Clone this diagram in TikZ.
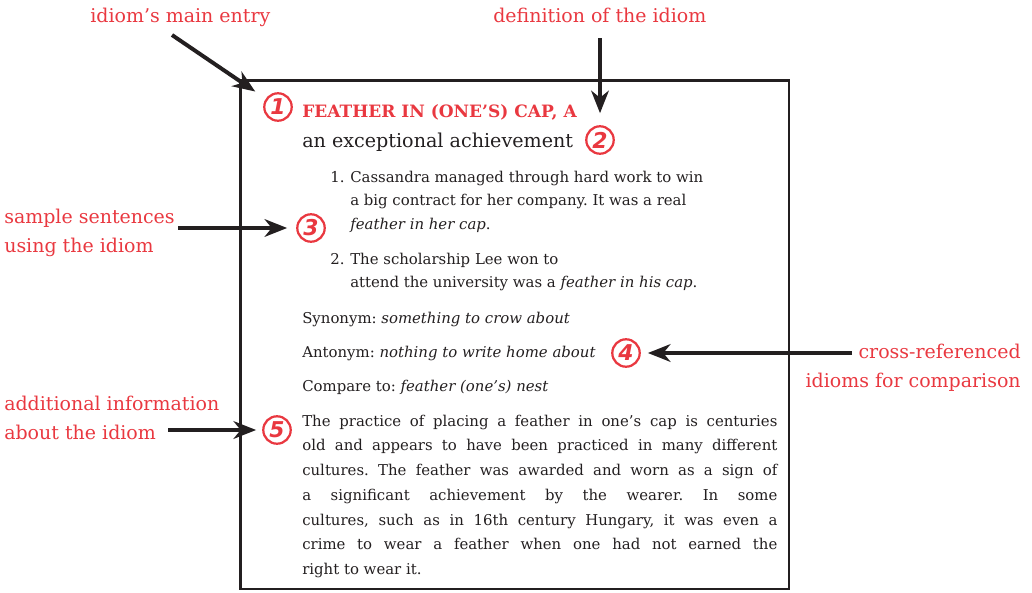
\documentclass[tikz,border=0pt]{standalone}
\usepackage{fontspec}
\setmainfont{DejaVu Serif}
\newfontfamily\markerfont{DejaVu Sans}
\usetikzlibrary{arrows.meta}
\definecolor{notered}{RGB}{233,56,64}
\definecolor{inkgray}{RGB}{35,31,32}
\tikzset{
  note/.style={notered, inner sep=0pt, font=\fontsize{13.5}{20.3}\selectfont},
  entry/.style={inkgray, inner sep=0pt, font=\fontsize{10.6}{16.7}\selectfont\frenchspacing},
  marker/.style={circle, draw=notered, line width=1.6pt, text=notered, inner sep=0pt, minimum size=19.5pt, font=\markerfont\fontsize{15.5}{15.5}\selectfont\bfseries\itshape},
  pointer/.style={inkgray, line width=2.8pt, shorten >=5pt, -{Stealth[length=16pt,width=12.5pt,inset=5pt]}}
}

\begin{document}
\begin{tikzpicture}[x=0.025cm, y=-0.025cm]
\useasboundingbox (0,0) rectangle (1032,592);
% the dictionary entry
\draw[inkgray, line width=1.8pt] (240.5,80.5) rectangle (789,589);
\node[entry, anchor=base west, text=notered, font=\fontsize{12.1}{14}\selectfont\bfseries] (head) at (302,117) {FEATHER IN (ONE’S) CAP, A};
\node[entry, anchor=base west, font=\fontsize{13.6}{16}\selectfont] (defn) at (302,147) {an exceptional achievement};
\node[entry, anchor=north west, align=left] (ex1) at (350,170.5) {\llap{1.\hspace{4pt}}Cassandra managed through hard work to win\\a big contract for her company. It was a real\\\textit{feather in her cap}.};
\node[entry, anchor=north west, align=left] (ex2) at (350,252.5) {\llap{2.\hspace{4pt}}The scholarship Lee won to\\attend the university was a \textit{feather in his cap}.};
\node[entry, anchor=base west] (syn) at (302,323) {Synonym: \textit{something to crow about}};
\node[entry, anchor=base west] (ant) at (302,357) {Antonym: \textit{nothing to write home about}};
\node[entry, anchor=base west] (cmp) at (302,391) {Compare to: \textit{feather (one’s) nest}};
\node[entry, anchor=north west, text width=11.875cm, align=justify, font=\fontsize{10.6}{17.6}\selectfont\frenchspacing] (info) at (302,414.5) {The practice of placing a feather in one’s cap is centuries\linebreak old and appears to have been practiced in many different\linebreak cultures. The feather was awarded and worn as a sign of\linebreak a significant achievement by the wearer. In some\linebreak cultures, such as in 16th century Hungary, it was even a\linebreak crime to wear a feather when one had not earned the\linebreak right to wear it.};
% numbered markers
\node[marker] (c1) at (278,107) {1};
\node[marker] (c2) at (600,140) {2};
\node[marker] (c3) at (311,228) {3};
\node[marker] (c4) at (626,353) {4};
\node[marker] (c5) at (277,430) {5};
% callout labels
\node[note, anchor=base west] (l1) at (90,23) {idiom’s main entry};
\node[note, anchor=base west] (l2) at (493,23) {definition of the idiom};
\node[note, anchor=north west, align=left] (l3) at (4,209) {sample sentences\\using the idiom};
\node[note, anchor=north east, align=right] (l4) at (1021,344) {cross-referenced\\idioms for comparison};
\node[note, anchor=north west, align=left] (l5) at (4,396) {additional information\\about the idiom};
% arrows
\coordinate (a1) at (172,35);
\coordinate (a2) at (600,38);
\coordinate (a3) at (178,228);
\coordinate (a4) at (852,353);
\coordinate (a5) at (168,430);
\draw[pointer, shorten >=9pt] (a1) -- (c1);
\draw[pointer, shorten >=8.5pt] (a2) -- (c2);
\draw[pointer, shorten >=6.4pt] (a3) -- (c3);
\draw[pointer] (a4) -- (c4);
\draw[pointer, shorten >=4.3pt] (a5) -- (c5);
\end{tikzpicture}
\end{document}
